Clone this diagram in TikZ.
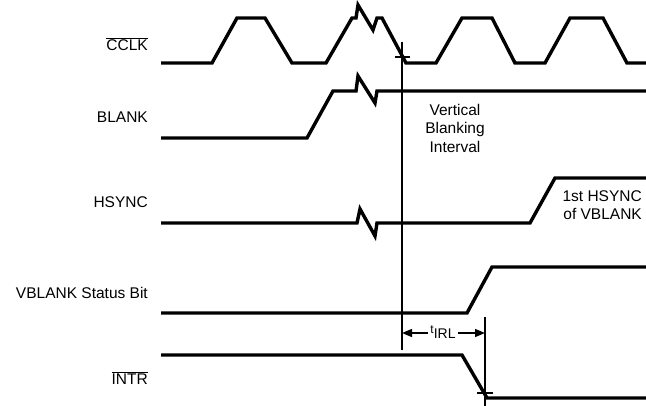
\documentclass[tikz,border=0pt]{standalone}
\usepackage{fontspec}
\setmainfont{Liberation Sans}
\usetikzlibrary{arrows.meta}
\tikzset{
  wave/.style={line width=3.4pt, line join=miter, line cap=butt},
  thin/.style={line width=1.1pt},
  lbl/.style={font=\fontsize{15.5}{18}\selectfont, inner sep=0pt, anchor=east},
  note/.style={font=\fontsize{15.5}{18.5}\selectfont, inner sep=0pt, align=center},
  dim/.style={line width=1.4pt, -{Triangle[length=10pt,width=8pt]}}
}
\begin{document}
\begin{tikzpicture}[x=1pt,y=-1pt]
\useasboundingbox (0,0) rectangle (646,406);
% labels
\node[lbl] (lcclk) at (148,44) {$\overline{\mbox{CCLK}}$};
\node[lbl] (lblank) at (148,117) {BLANK};
\node[lbl] (lhsync) at (148,202) {HSYNC};
\node[lbl] (lvbl) at (148,293) {VBLANK Status Bit};
\node[lbl] (lintr) at (148,378) {$\overline{\mbox{INTR}}$};
% CCLK
\draw[wave] (161,63) -- (212,63) -- (237,18) -- (265,18) -- (292,63) -- (326,63) -- (352,18) -- (356,18) -- (358,5) -- (373,30) -- (377,18) -- (382,18) -- (406,63) -- (436,63) -- (462,18) -- (492,18) -- (515,63) -- (545,63) -- (570,18) -- (603,18) -- (627,63) -- (646,63);
% BLANK
\draw[wave] (161,138) -- (307,138) -- (333,91) -- (356,91) -- (358,76) -- (375,103) -- (377,91) -- (646,91);
% HSYNC
\draw[wave] (161,223) -- (357,223) -- (360,209) -- (375,236) -- (377,223) -- (530,223) -- (555,178) -- (646,178);
% VBLANK status bit
\draw[wave] (161,313) -- (467,313) -- (492,267) -- (646,267);
% INTR
\draw[wave] (161,355) -- (462,355) -- (487,398) -- (646,398);
% reference lines
\coordinate (v1t) at (402,42);
\coordinate (v1b) at (402,350);
\coordinate (v2t) at (485,317);
\coordinate (v2b) at (485,406);
\draw[thin] (v1t) -- (v1b);
\draw[thin] (v2t) -- (v2b);
\draw[thin] (395,57) -- (410,57);
\draw[thin] (477,393) -- (493,393);
% tIRL
\node[inner sep=0pt] (tirl) at (443,332) {\raisebox{2pt}{\fontsize{12}{12}\selectfont t}\raisebox{-3pt}{\fontsize{14}{14}\selectfont IRL}};
\coordinate (al) at (402,333);
\coordinate (ar) at (485,333);
\draw[dim] (tirl.west) ++(-2,1) -- (al);
\draw[dim] (tirl.east) ++(2,1) -- (ar);
% notes
\node[note] (vbi) at (455,128) {Vertical\\Blanking\\Interval};
\node[note, align=right, anchor=east] (fhs) at (642,205) {1st HSYNC\\of VBLANK};
\end{tikzpicture}
\end{document}
